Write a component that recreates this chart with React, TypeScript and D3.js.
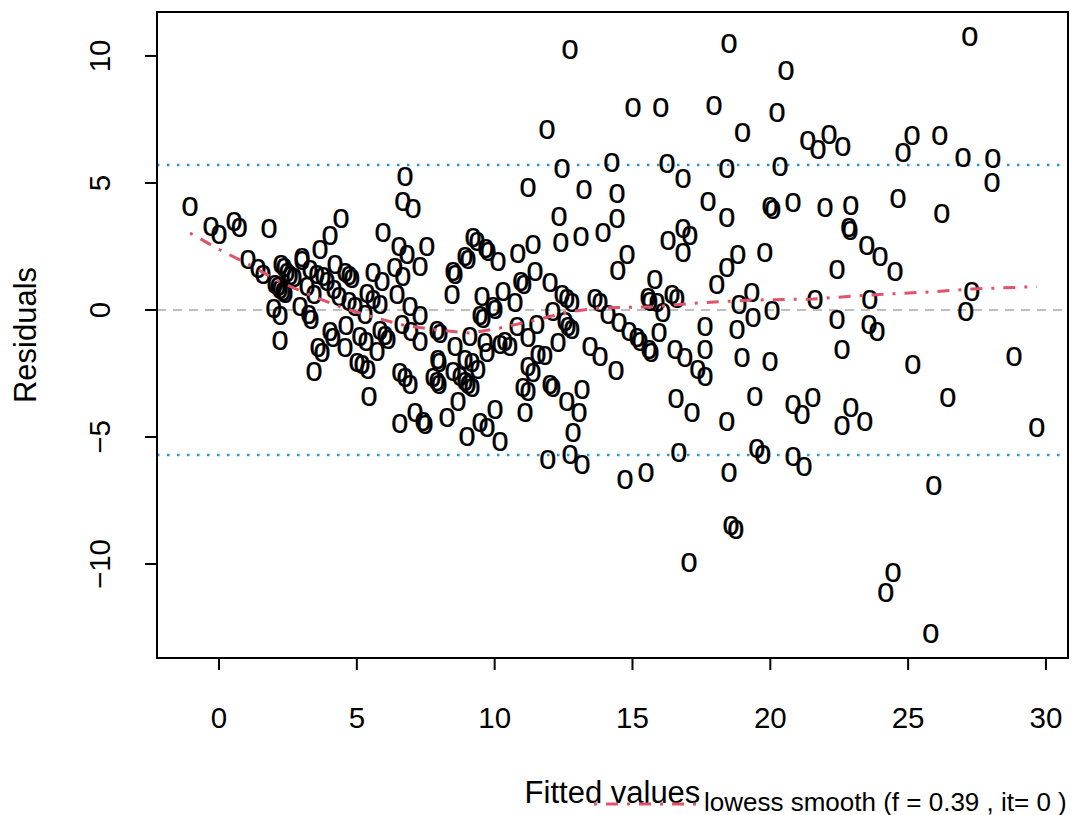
import React from "react";
import * as d3 from "d3";

// Fitted values and residuals of the model, one entry per observation
const fitted: number[] = [
  -1.05, -0.29, 0.0, 0.54, 0.73, 1.05, 1.41, 1.6, 1.81,
  2.25, 2.36, 2.47, 2.58, 2.72, 2.03, 2.14, 2.21, 2.32, 2.39, 1.99, 2.21, 2.21, 2.94, 3.01, 3.01,
  3.3, 3.55, 3.77, 3.92, 3.19, 3.45, 3.26, 3.34, 3.66, 4.03, 4.43, 4.21, 4.57, 4.72, 4.82, 4.17, 4.35,
  4.72, 4.93, 4.03, 4.13, 4.61, 3.59, 3.74, 4.57, 3.45, 5.01,
  5.11, 5.33, 5.3, 5.73, 5.19, 5.4, 5.44, 5.37, 5.59, 5.84, 5.59, 5.91, 5.84, 6.02, 6.13, 5.95, 6.38,
  6.67, 6.53, 6.82, 6.46, 6.93, 7.29, 6.64, 6.96, 7.29, 6.56, 6.75, 6.93, 6.56, 7.11, 7.4, 7.47, 6.75,
  6.67, 7.04, 7.29, 7.54,
  7.91, 8.02, 8.56, 9.1, 7.94, 7.98, 7.76, 7.91, 7.98, 8.27, 8.49, 8.74, 8.92, 9.03, 9.18, 8.67, 8.92,
  9.18, 9.39, 9.0, 9.47, 9.72, 10.01, 10.19, 9.72, 8.49, 8.56, 8.92, 9.03, 9.21, 9.36, 9.68, 9.76,
  10.12, 8.45, 9.54, 9.94, 10.01, 9.47, 9.58,
  10.3, 10.74, 10.84, 11.39, 11.21, 11.46, 10.95, 11.06, 9.65, 10.19, 10.81, 11.21, 11.53, 10.37,
  10.55, 11.21, 11.39, 11.03, 11.21, 11.1, 11.57,
  12.01, 12.44, 12.62, 12.8, 12.11, 12.55, 12.66, 12.8, 12.3, 11.82, 13.46, 13.82, 14.4, 12.01, 12.11,
  13.17, 12.62, 13.06, 12.84, 11.93, 12.73, 13.17, 13.64, 13.82, 14.11, 14.47, 14.8, 11.9, 12.73,
  12.44, 13.24, 12.33, 12.4, 13.13, 13.93,
  14.25, 14.44, 14.44, 15.02, 16.03, 16.25, 16.83, 17.74, 16.29, 16.83, 17.08, 16.83, 14.51, 14.87,
  15.16, 15.27, 15.6, 15.67, 15.56, 15.63, 15.89, 15.81, 16.1, 15.96, 16.43, 16.61, 16.54, 16.9,
  17.37, 17.63, 17.63, 17.63, 16.58, 17.16, 16.68, 14.73, 15.49, 17.05, 17.96,
  18.42, 18.42, 18.5, 18.99, 18.42, 18.06, 18.42, 18.5, 18.57, 18.75, 18.86, 19.33, 18.79, 19.37,
  18.97, 20.06, 19.99, 19.44, 19.51, 19.73, 18.82, 19.8, 20.24, 20.57, 20.35, 19.99, 20.09, 20.82,
  20.82, 20.82, 21.15, 21.22, 21.54,
  21.36, 21.73, 22.13, 22.63, 21.98, 22.92, 22.85, 22.89, 23.5, 23.98, 24.52, 22.42, 21.62, 23.61,
  22.42, 23.58, 23.87, 22.6, 22.92, 22.6, 23.43, 24.63, 24.81, 24.45, 24.19,
  25.14, 26.15, 26.22, 25.17, 26.44, 25.93, 25.82, 26.99, 27.24, 28.07, 28.04, 27.31, 27.09, 28.84,
  29.67,
];

const residuals: number[] = [
  4.06, 3.27, 2.95, 3.46, 3.23, 1.97, 1.61, 1.38, 3.19,
  1.77, 1.65, 1.46, 1.34, 1.26, 0.98, 0.91, 0.79, 0.71, 0.63, 0.04, -0.24, -1.22, 0.12, 2.05, 1.93,
  1.57, 1.38, 1.3, 1.1, 0.91, 0.59, -0.2, -0.39, 2.36, 2.91, 3.58, 1.77, 1.46, 1.34, 1.22, 0.79, 0.51,
  0.31, 0.12, -0.87, -1.1, -0.63, -1.5, -1.69, -1.5, -2.44, -2.09,
  -1.06, -1.26, -0.2, -1.65, -2.17, -2.36, -3.43, 0.63, 0.39, 0.2, 1.46, 1.1, -0.83, -1.02, -1.18, 3.03, 1.65,
  1.3, 2.48, 2.17, 0.59, 0.12, -0.24, -0.59, -0.87, -1.26, -2.48, -2.68, -2.95, -4.49, -4.06, -4.41, -4.53, 5.24,
  4.25, 3.98, 1.69, 2.48,
  -0.83, -0.94, -1.46, -1.06, -1.97, -2.09, -2.68, -2.83, -2.95, -4.25, -2.44, -2.64, -2.83, -2.95, -3.07, -3.62, -1.97,
  -2.09, -2.36, -5.0, -4.45, -4.65, -3.94, -5.2, -1.69, 1.5, 1.38, 2.09, 1.97, 2.83, 2.68, 2.4, 2.28,
  1.89, 0.59, 0.51, 0.12, 0.0, -0.24, -0.35,
  0.71, 0.28, 2.2, 2.56, 4.8, 1.5, 1.1, 0.98, -1.3, -1.38, -0.67, -1.1, -0.59, -1.26,
  -1.46, -2.24, -2.48, -3.07, -3.23, -4.06, -1.77,
  1.06, 0.59, 0.43, 0.28, -0.08, -0.47, -0.67, -0.79, -1.3, -1.81, -1.46, -1.85, -2.4, -2.95, -3.07,
  -3.15, -3.62, -4.06, -4.84, -5.91, -5.71, -6.1, 0.43, 0.28, -0.2, 1.54, 2.17, 7.09, 10.24,
  5.55, 4.72, 3.66, 2.64, 2.87, 3.03,
  5.79, 4.57, 3.58, 7.95, 7.95, 5.75, 5.16, 4.25, 2.72, 3.19, 2.91, 2.24, -0.51, -0.87,
  -1.1, -1.26, -1.57, -1.69, 0.47, 0.31, 0.28, 1.18, -0.12, -0.91, 0.59, 0.43, -1.57, -1.89,
  -2.36, -2.64, -0.67, -1.57, -3.5, -4.06, -5.63, -6.69, -6.42, -9.96, 8.03,
  3.62, 5.55, 10.47, 6.97, 1.65, 0.98, -4.41, -6.42, -8.5, -8.66, 0.2, 0.67, -0.79, -0.31,
  -1.89, -0.04, -2.05, -3.43, -5.47, -5.71, 2.17, 2.24, 7.76, 9.41, 5.63, 4.06, 3.94, 4.21,
  -3.74, -5.79, -4.13, -6.18, -3.46,
  6.65, 6.3, 6.89, 6.42, 4.02, 4.09, 3.23, 3.11, 2.52, 2.09, 1.5, 1.57, 0.39, 0.39,
  -0.39, -0.59, -0.87, -1.57, -3.86, -4.57, -4.41, 4.37, 6.18, -10.35, -11.14,
  6.85, 6.85, 3.78, -2.17, -3.46, -6.93, -12.76, 5.98, 10.75, 5.94, 5.0, 0.71, -0.08, -1.85,
  -4.65,
];

// lowess smooth of residuals on fitted values (f = 0.39, it = 0)
const lowessX: number[] = [
  -1.05, 0.04, 1.12, 2.21, 3.3, 4.39, 5.59, 6.67, 7.91, 9.1, 10.19, 11.53, 12.62, 13.82, 15.63,
  17.45, 19.26, 21.55, 23.61, 25.79, 27.35, 29.67,
];
const lowessY: number[] = [
  3.03, 2.36, 1.77, 1.1, 0.59, 0.12, -0.28, -0.59, -0.79, -0.91, -0.71, -0.39, -0.08, 0.08, 0.12,
  0.28, 0.39, 0.43, 0.59, 0.71, 0.83, 0.92,
];

const xTicks: number[] = [0, 5, 10, 15, 20, 25, 30];
const yTicks: number[] = [-10, -5, 0, 5, 10];
const residualBand = 5.71;

const W = 1072;
const H = 815;
const left = 157;
const right = 1068;
const top = 12;
const bottom = 658;
const FONT = "'Liberation Sans', Arial, Helvetica, sans-serif";
const RED = "#DF536B";
const BLUE = "#2297E6";
const POINT_SIZE = 31.5;

export default function App() {
  const x = d3.scaleLinear().domain([-2.25, 30.8]).range([left, right]);
  const y = d3.scaleLinear().domain([-13.7, 11.73]).range([bottom, top]);

  const smooth = d3
    .line<number>()
    .x((_, i) => x(lowessX[i]))
    .y((d) => y(d));

  const pts = fitted.map((f, i) => [f, residuals[i]] as [number, number]);

  return (
    <svg
      width={W}
      height={H}
      style={{ position: "absolute", left: 0, top: 0, background: "#fff" }}
      fontFamily={FONT}
    >
      <rect x={0} y={0} width={W} height={H} fill="#fff" />

      {/* reference lines */}
      <line x1={left} x2={right} y1={y(0)} y2={y(0)} stroke="#BEBEBE" strokeWidth={2} strokeDasharray="9,7" />
      <line x1={left} x2={right} y1={y(residualBand)} y2={y(residualBand)} stroke={BLUE} strokeWidth={2.5} strokeDasharray="2.5,7.5" />
      <line x1={left} x2={right} y1={y(-residualBand)} y2={y(-residualBand)} stroke={BLUE} strokeWidth={2.5} strokeDasharray="2.5,7.5" />

      {/* observations, plotted with the "o" symbol */}
      <g fontSize={POINT_SIZE} textAnchor="middle" fill="#000" stroke="#000" strokeWidth={0.15}>
        {pts.map(([f, r], i) => (
          <text key={i} transform={`translate(${x(f)},${y(r)}) scale(1,1.12)`} y={POINT_SIZE * 0.26}>
            o
          </text>
        ))}
      </g>

      {/* lowess smooth */}
      <path d={smooth(lowessY) || ""} fill="none" stroke={RED} strokeWidth={3} strokeDasharray="3,9,12,9" />

      {/* frame */}
      <rect x={left} y={top} width={right - left} height={bottom - top} fill="none" stroke="#000" strokeWidth={2} />

      {/* x axis */}
      <g fontSize={29.5} textAnchor="middle">
        <line x1={x(xTicks[0])} x2={x(xTicks[xTicks.length - 1])} y1={bottom} y2={bottom} stroke="#000" strokeWidth={2} />
        {xTicks.map((t) => (
          <g key={t}>
            <line x1={x(t)} x2={x(t)} y1={bottom} y2={bottom + 12} stroke="#000" strokeWidth={2} />
            <text x={x(t)} y={728}>
              {t}
            </text>
          </g>
        ))}
      </g>

      {/* y axis */}
      <g fontSize={29.5} textAnchor="middle">
        {yTicks.map((t) => (
          <g key={t}>
            <line x1={left - 12} x2={left} y1={y(t)} y2={y(t)} stroke="#000" strokeWidth={2} />
            <text transform={`translate(110,${y(t)}) rotate(-90)`}>{t < 0 ? `\u2212${-t}` : t}</text>
          </g>
        ))}
      </g>

      {/* axis titles */}
      <text x={(left + right) / 2} y={803} fontSize={31} textAnchor="middle">
        Fitted values
      </text>
      <text transform={`translate(36,${(top + bottom) / 2}) rotate(-90)`} fontSize={31} textAnchor="middle">
        Residuals
      </text>

      {/* legend */}
      <line x1={594} x2={700} y1={804} y2={804} stroke={RED} strokeWidth={3} strokeDasharray="3,9,12,9" />
      <text x={704} y={811} fontSize={26}>
        lowess smooth (f = 0.39 , it= 0 )
      </text>
    </svg>
  );
}
